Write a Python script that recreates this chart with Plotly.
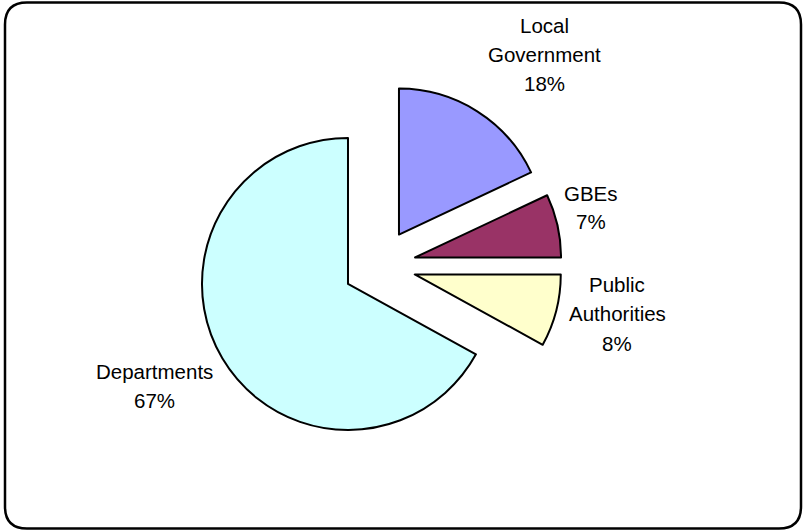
import plotly.graph_objects as go

# Data
categories = ["Local Government", "GBEs", "Public Authorities", "Departments"]
values = [18, 7, 8, 67]
colors = ["#9999FF", "#993366", "#FFFFCC", "#CCFFFF"]
label_lines = [
    ["Local", "Government", "18%"],
    ["GBEs", "7%"],
    ["Public", "Authorities", "8%"],
    ["Departments", "67%"],
]
# label line positions in pixels (x center, y center of each line)
label_pos = [
    (544, [25, 55, 84]),
    (591, [193, 221]),
    (617, [284, 313, 343]),
    (154, [371, 400]),
]

W, H = 807, 531

fig = go.Figure()
fig.add_trace(go.Pie(
    labels=categories,
    values=values,
    sort=False,
    direction="clockwise",
    rotation=0,
    pull=[0.25, 0.25, 0.25, 0.25],
    marker=dict(colors=colors, line=dict(color="black", width=2)),
    textinfo="none",
    hoverinfo="label+percent",
    domain=dict(x=[0.2223, 0.7180], y=[0.1565, 0.8439]),
    showlegend=False,
))

annotations = []
for (xc, ys), lines in zip(label_pos, label_lines):
    for yy, txt in zip(ys, lines):
        annotations.append(dict(
            x=xc / W, y=1 - yy / H, xref="paper", yref="paper",
            text=txt, showarrow=False, xanchor="center", yanchor="middle",
            font=dict(family="Liberation Sans, Arial, sans-serif", size=20.5, color="black"),
        ))

# rounded border
x0, x1, y0, y1, rr = 5, 801, 2.5, 528.5, 22
def px(x):
    return x / W
def py(y):
    return 1 - y / H
path = (
    f"M {px(x0+rr)},{py(y0)} L {px(x1-rr)},{py(y0)} "
    f"Q {px(x1)},{py(y0)} {px(x1)},{py(y0+rr)} "
    f"L {px(x1)},{py(y1-rr)} Q {px(x1)},{py(y1)} {px(x1-rr)},{py(y1)} "
    f"L {px(x0+rr)},{py(y1)} Q {px(x0)},{py(y1)} {px(x0)},{py(y1-rr)} "
    f"L {px(x0)},{py(y0+rr)} Q {px(x0)},{py(y0)} {px(x0+rr)},{py(y0)} Z"
)

fig.update_layout(
    width=W, height=H,
    margin=dict(l=0, r=0, t=0, b=0),
    paper_bgcolor="white",
    plot_bgcolor="white",
    annotations=annotations,
    shapes=[dict(type="path", path=path, xref="paper", yref="paper",
                 line=dict(color="black", width=2.5), fillcolor="rgba(0,0,0,0)")],
)

fig.write_html("out.html")
